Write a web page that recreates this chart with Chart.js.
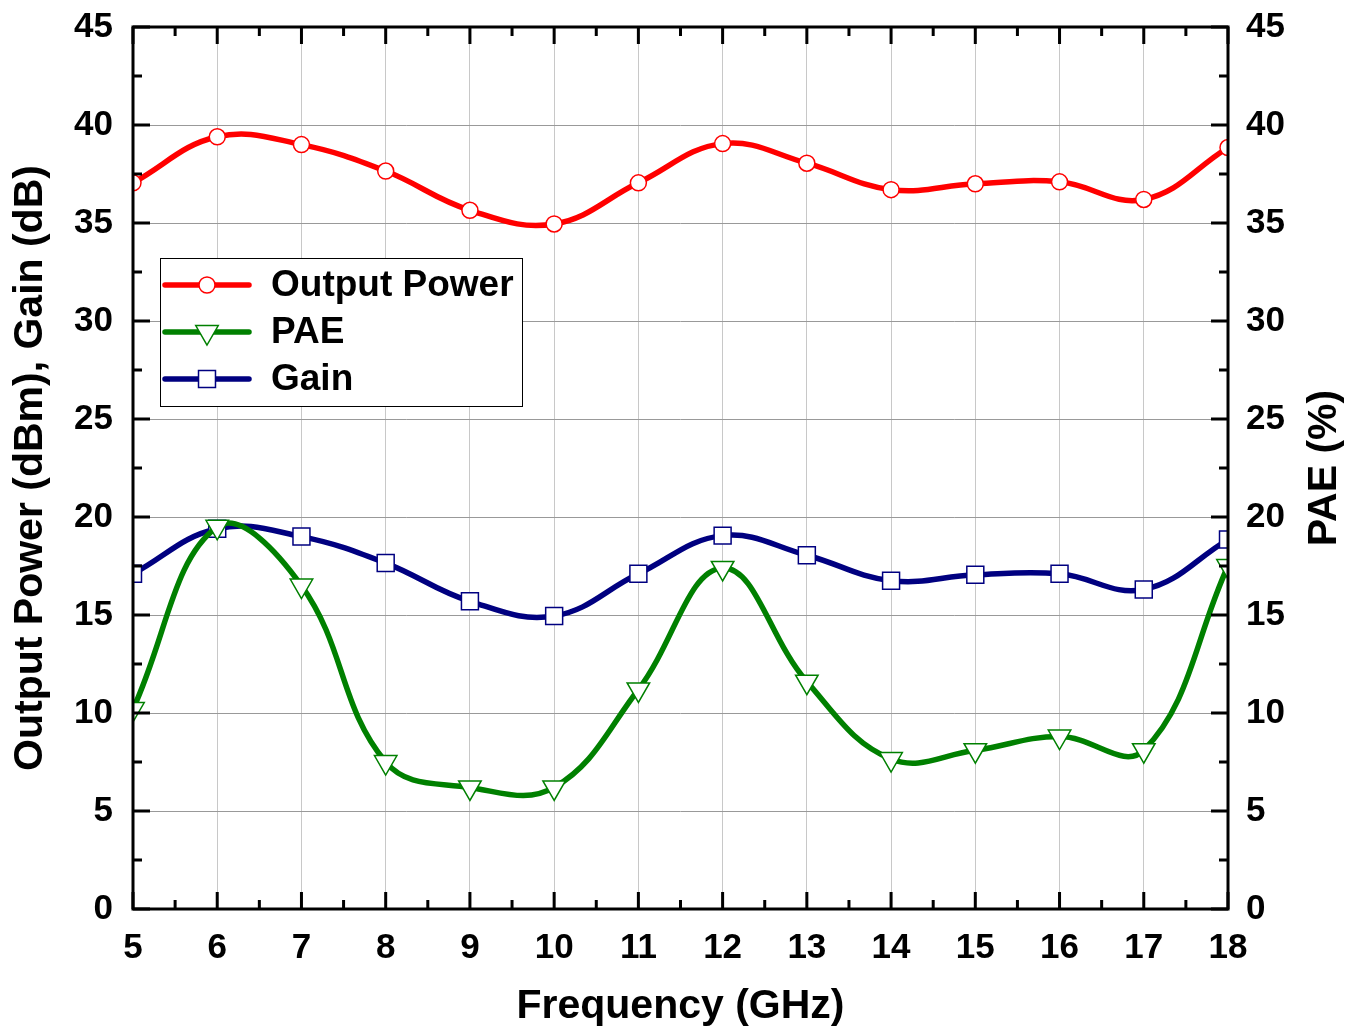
<!DOCTYPE html>
<html>
<head>
<meta charset="utf-8">
<script src="https://cdn.jsdelivr.net/npm/chart.js@4/dist/chart.umd.min.js"></script>
<style>
  html, body { margin: 0; padding: 0; background: #fff; }
  #wrapper { width: 1349px; height: 1033px; }
</style>
</head>
<body>
<div id="wrapper"><canvas id="myChart"></canvas></div>
<script>
const freq = [5, 6, 7, 8, 9, 10, 11, 12, 13, 14, 15, 16, 17, 18];
const outputPower = [37.05, 39.4, 39.0, 37.65, 35.65, 34.95, 37.05, 39.05, 38.05, 36.7, 37.0, 37.1, 36.2, 38.85];
const pae = [10.2, 19.5, 16.5, 7.5, 6.2, 6.2, 11.2, 17.4, 11.6, 7.65, 8.1, 8.8, 8.1, 17.5];
const gain = [17.1, 19.4, 19.0, 17.65, 15.7, 14.95, 17.1, 19.05, 18.05, 16.75, 17.05, 17.1, 16.3, 18.85];
const xTicks = [5, 6, 7, 8, 9, 10, 11, 12, 13, 14, 15, 16, 17, 18];
const yTicks = [0, 5, 10, 15, 20, 25, 30, 35, 40, 45];

const FONT = "'Liberation Sans', Arial, sans-serif";
const RED = "#ff0000", GREEN = "#008000", NAVY = "#000080";

function pts(arr) {
  return freq.map((f, i) => ({ x: f, y: arr[i] }));
}

const series = [
  { label: "Output Power", data: pts(outputPower), color: RED, style: "circle", r: 8, rot: 0, axis: "y" },
  { label: "PAE", data: pts(pae), color: GREEN, style: "triangle", r: 13, rot: 180, axis: "y1" },
  { label: "Gain", data: pts(gain), color: NAVY, style: "rect", r: 12, rot: 0, axis: "y" },
];

// ticks pointing inward, minor ticks, frame, right title and legend
const frameAndTicks = {
  id: "frameAndTicks",
  afterDatasetsDraw(chart) {
    const { ctx, chartArea: a, scales } = chart;
    const sx = scales.x, sy = scales.y;
    ctx.save();
    ctx.strokeStyle = "#000";
    ctx.lineWidth = 3;
    ctx.lineCap = "butt";
    const major = 17, minor = 9;

    ctx.beginPath();
    xTicks.forEach((v, i) => {
      const px = sx.getPixelForValue(v);
      ctx.moveTo(px, a.bottom); ctx.lineTo(px, a.bottom - major);
      ctx.moveTo(px, a.top); ctx.lineTo(px, a.top + major);
      if (i < xTicks.length - 1) {
        const mx = sx.getPixelForValue((v + xTicks[i + 1]) / 2);
        ctx.moveTo(mx, a.bottom); ctx.lineTo(mx, a.bottom - minor);
        ctx.moveTo(mx, a.top); ctx.lineTo(mx, a.top + minor);
      }
    });
    yTicks.forEach((v, i) => {
      const py = sy.getPixelForValue(v);
      ctx.moveTo(a.left, py); ctx.lineTo(a.left + major, py);
      ctx.moveTo(a.right, py); ctx.lineTo(a.right - major, py);
      if (i < yTicks.length - 1) {
        const my = sy.getPixelForValue((v + yTicks[i + 1]) / 2);
        ctx.moveTo(a.left, my); ctx.lineTo(a.left + minor, my);
        ctx.moveTo(a.right, my); ctx.lineTo(a.right - minor, my);
      }
    });
    ctx.stroke();
    ctx.strokeRect(a.left, a.top, a.right - a.left, a.bottom - a.top);

    // right axis title, read bottom to top like the left one
    ctx.save();
    ctx.translate(1325, (a.top + a.bottom) / 2);
    ctx.rotate(-Math.PI / 2);
    ctx.fillStyle = "#000";
    ctx.font = "bold 41px " + FONT;
    ctx.textAlign = "center";
    ctx.textBaseline = "middle";
    ctx.fillText("PAE (%)", 0, 0);
    ctx.restore();

    // legend
    const lx = 160, ly = 258, lw = 362, lh = 148;
    ctx.fillStyle = "#fff";
    ctx.fillRect(lx, ly, lw, lh);
    ctx.lineWidth = 1;
    ctx.strokeStyle = "#000";
    ctx.strokeRect(lx + 0.5, ly + 0.5, lw, lh);
    series.forEach((s, i) => {
      const y = 285 + i * 47;
      ctx.strokeStyle = s.color;
      ctx.lineWidth = 5.5;
      ctx.lineCap = "round";
      ctx.beginPath();
      ctx.moveTo(165, y); ctx.lineTo(249, y);
      ctx.stroke();
      ctx.fillStyle = "#fff";
      ctx.strokeStyle = s.color;
      ctx.lineWidth = 1.5;
      Chart.helpers.drawPoint(ctx, { pointStyle: s.style, radius: s.r, rotation: s.rot, borderWidth: 1.5 }, 207, y);
      ctx.fillStyle = "#000";
      ctx.font = "bold 37px " + FONT;
      ctx.textBaseline = "middle";
      ctx.textAlign = "left";
      ctx.fillText(s.label, 271, y + 1);
    });
    ctx.restore();
  },
};

function fitY(width) {
  return (scale) => {
    scale.width = width;
    scale.paddingTop = 27;
    scale.paddingBottom = 0;
  };
}

const ctx = document.getElementById("myChart").getContext("2d");
new Chart(ctx, {
  type: "line",
  data: {
    datasets: series.map((s) => ({
      label: s.label,
      data: s.data,
      yAxisID: s.axis,
      borderColor: s.color,
      borderWidth: 5.5,
      backgroundColor: "#fff",
      pointStyle: s.style,
      pointRadius: s.r,
      pointRotation: s.rot,
      pointBorderWidth: 1.5,
      pointBorderColor: s.color,
      pointBackgroundColor: "#fff",
      tension: 0.4,
      fill: false,
      clip: 0,
    })),
  },
  options: {
    responsive: true,
    maintainAspectRatio: false,
    animation: false,
    devicePixelRatio: 1,
    layout: { padding: { top: 27, left: 0, right: 0, bottom: 0 } },
    plugins: { legend: { display: false }, tooltip: { enabled: false } },
    scales: {
      x: {
        type: "linear",
        min: 5,
        max: 18,
        afterBuildTicks: (scale) => { scale.ticks = xTicks.map((v) => ({ value: v })); },
        afterFit: (scale) => { scale.height = 124; },
        grid: { color: "#c8c8c8", lineWidth: 1, drawTicks: false },
        border: { display: false },
        ticks: { padding: 18, color: "#000", font: { family: FONT, size: 35, weight: "bold" } },
        title: {
          display: true,
          text: "Frequency (GHz)",
          color: "#000",
          padding: { top: 0, bottom: 2 },
          font: { family: FONT, size: 41, weight: "bold" },
        },
      },
      y: {
        position: "left",
        min: 0,
        max: 45,
        afterBuildTicks: (scale) => { scale.ticks = yTicks.map((v) => ({ value: v })); },
        afterFit: fitY(133),
        grid: { color: "#999", lineWidth: 1, drawTicks: false },
        border: { display: false },
        ticks: { padding: 20, color: "#000", font: { family: FONT, size: 35, weight: "bold" } },
        title: {
          display: true,
          text: "Output Power (dBm), Gain (dB)",
          color: "#000",
          padding: { top: 6, bottom: 0 },
          font: { family: FONT, size: 41, weight: "bold" },
        },
      },
      y1: {
        position: "right",
        min: 0,
        max: 45,
        afterBuildTicks: (scale) => { scale.ticks = yTicks.map((v) => ({ value: v })); },
        afterFit: fitY(121),
        grid: { display: false, drawTicks: false },
        border: { display: false },
        ticks: { padding: 18, color: "#000", font: { family: FONT, size: 35, weight: "bold" } },
        title: { display: false },
      },
    },
  },
  plugins: [frameAndTicks],
});
</script>
</body>
</html>
